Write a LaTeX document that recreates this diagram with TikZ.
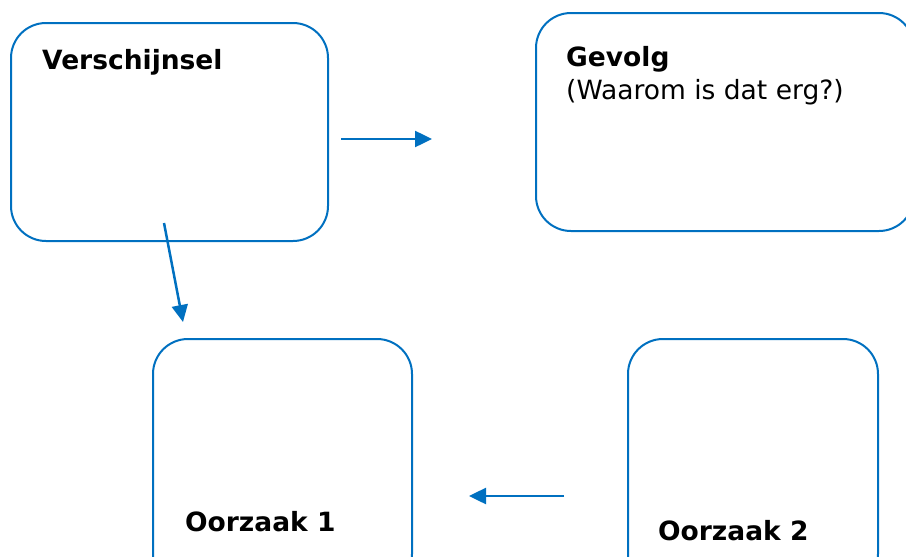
\documentclass[tikz,border=0pt]{standalone}
\usepackage{fontspec}
\setmainfont{DejaVu Sans}
\usetikzlibrary{arrows.meta,positioning}
\definecolor{boxblue}{RGB}{0,112,192}
\tikzset{
  kader/.style={draw=boxblue, line width=2pt, rounded corners=35pt,
    inner sep=0pt, anchor=north west},
  label/.style={anchor=base west, inner sep=0pt, font=\fontsize{26.5}{33}\selectfont},
  pijl/.style={draw=boxblue, line width=2.5pt, -{Triangle[length=17pt,width=16pt]}}
}

\begin{document}
\begin{tikzpicture}[x=1pt,y=-1pt]
  \clip (0,0) rectangle (906,557);
  \useasboundingbox (0,0) rectangle (906,557);
  % kaders
  \node[kader, minimum width=317pt, minimum height=218pt] (verschijnsel) at (10,22) {};
  \node[kader, minimum width=378pt, minimum height=218pt] (gevolg) at (535,12) {};
  \node[kader, minimum width=259pt, minimum height=250pt] (oorzaak1) at (152,338) {};
  \node[kader, minimum width=250pt, minimum height=250pt] (oorzaak2) at (627,338) {};
  % teksten
  \node[label] (tverschijnsel) at ([xshift=32pt,yshift=-47pt]verschijnsel.north west) {\textbf{Verschijnsel}};
  \node[label] (tgevolg) at ([xshift=31pt,yshift=-54pt]gevolg.north west) {\textbf{Gevolg}};
  \node[label] (tvraag) at ([yshift=-33pt]tgevolg.base west) {(Waarom is dat erg?)};
  \node[label] (toorzaak1) at ([xshift=33pt,yshift=-193pt]oorzaak1.north west) {\textbf{Oorzaak 1}};
  \node[label] (toorzaak2) at ([xshift=31pt,yshift=-202pt]oorzaak2.north west) {\textbf{Oorzaak 2}};
  % pijlen
  \coordinate (p1a) at (341,139);
  \coordinate (p1b) at (432,139);
  \coordinate (p2a) at (164,223);
  \coordinate (p2b) at (183,322);
  \coordinate (p3a) at (564,496);
  \coordinate (p3b) at (469,496);
  \draw[pijl] (p1a) -- (p1b);
  \draw[pijl] (p2a) -- (p2b);
  \draw[pijl] (p3a) -- (p3b);
\end{tikzpicture}
\end{document}
